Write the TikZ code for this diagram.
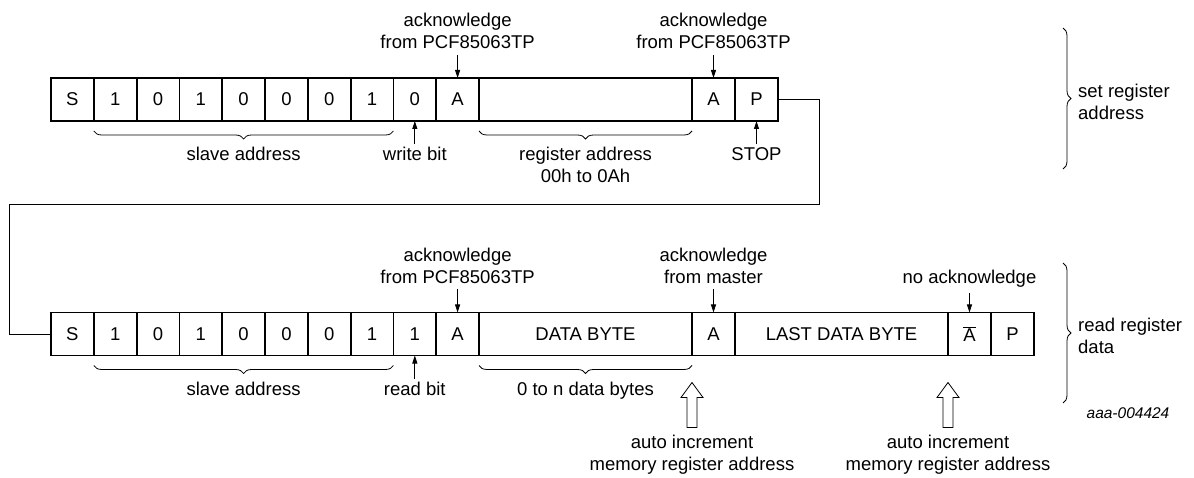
\documentclass[tikz,border=0pt]{standalone}
\usepackage{fontspec}
\setmainfont{Liberation Sans}
\usetikzlibrary{arrows.meta,decorations.pathreplacing}
\newcommand\lblfont{\fontsize{18.5}{22}\selectfont}
\begin{document}
\begin{tikzpicture}[x=1pt,y=-1pt,
  cell/.style={draw, line width=1.8pt, minimum height=43pt, minimum width=42.8pt, inner sep=0pt, outer sep=0pt, font=\lblfont},
  wide/.style={cell, minimum width=213pt},
  lbl/.style={align=center, inner sep=0pt, font=\lblfont},
  ackarrow/.style={-{Triangle[length=8pt,width=5pt]}, line width=0.8pt},
  brc/.style={decorate, decoration={brace, mirror, amplitude=8pt}, line width=0.8pt},
  rbrc/.style={decorate, decoration={brace, amplitude=8pt}, line width=0.8pt},
  link/.style={line width=1pt},
  hollow/.style={draw, line width=0.8pt, fill=white, line join=miter}]
\useasboundingbox (0,0) rectangle (1194,478);

% ---------- top frame: set register address ----------
\node[cell] (t0) at (72.4,99.5) {S};
\node[cell] (t1) at (115.2,99.5) {1};
\node[cell] (t2) at (158.0,99.5) {0};
\node[cell] (t3) at (200.8,99.5) {1};
\node[cell] (t4) at (243.6,99.5) {0};
\node[cell] (t5) at (286.4,99.5) {0};
\node[cell] (t6) at (329.2,99.5) {0};
\node[cell] (t7) at (372.0,99.5) {1};
\node[cell] (t8) at (414.8,99.5) {0};
\node[cell] (t9) at (457.6,99.5) {A};
\node[wide] (t10) at (585.5,99.5) {};
\node[cell] (t11) at (713.5,99.5) {A};
\node[cell] (t12) at (756.5,99.5) {P};

\node[lbl, anchor=north] (a1) at (457.6,13) {acknowledge\\from PCF85063TP};
\node[lbl, anchor=north] (a2) at (713.5,13) {acknowledge\\from PCF85063TP};
\draw[ackarrow] ([yshift=-6pt]a1.south) -- (t9.north);
\draw[ackarrow] ([yshift=-6pt]a2.south) -- (t11.north);

\draw[brc] ([yshift=-10pt]t1.south west) -- ([yshift=-10pt]t7.south east);
\node[lbl, anchor=north] (sa1) at (243.6,147) {slave address};
\node[lbl, anchor=north] (wb) at (414.8,147) {write bit};
\draw[ackarrow] ([yshift=3pt]wb.north) -- (t8.south);
\draw[brc] ([yshift=-10pt]t10.south west) -- ([yshift=-10pt]t10.south east);
\node[lbl, anchor=north] (ra) at (585.5,147) {register address\\00h to 0Ah};
\node[lbl, anchor=north] (st) at (756.5,147) {STOP};
\draw[ackarrow] ([yshift=3pt]st.north) -- (t12.south);

\draw[rbrc] (1063,28) -- (1063,169);
\node[lbl, align=left, anchor=north west] (sr) at (1078,83.5) {set register\\address};

% ---------- link ----------
\coordinate (k1) at (819,205);
\coordinate (k2) at (9,205);

% ---------- bottom frame: read register data ----------
\node[cell] (b0) at (72.4,334) {S};
\node[cell] (b1) at (115.2,334) {1};
\node[cell] (b2) at (158.0,334) {0};
\node[cell] (b3) at (200.8,334) {1};
\node[cell] (b4) at (243.6,334) {0};
\node[cell] (b5) at (286.4,334) {0};
\node[cell] (b6) at (329.2,334) {0};
\node[cell] (b7) at (372.0,334) {1};
\node[cell] (b8) at (414.8,334) {1};
\node[cell] (b9) at (457.6,334) {A};
\node[wide] (b10) at (585.5,334) {DATA BYTE};
\node[cell] (b11) at (713.5,334) {A};
\node[wide] (b12) at (841.5,334) {LAST DATA BYTE};
\node[cell] (b13) at (969.5,334) {$\overline{\mbox{A}}$};
\node[cell] (b14) at (1012.5,334) {P};

\draw[link] (t12.east) -| (k1) -- (k2) |- (b0.west);

\node[lbl, anchor=north] (a3) at (457.6,247.5) {acknowledge\\from PCF85063TP};
\node[lbl, anchor=north] (a4) at (713.5,247.5) {acknowledge\\from master};
\node[lbl, anchor=north] (a5) at (969.5,269.5) {no acknowledge};
\draw[ackarrow] ([yshift=-6pt]a3.south) -- (b9.north);
\draw[ackarrow] ([yshift=-6pt]a4.south) -- (b11.north);
\draw[ackarrow] ([yshift=-6pt]a5.south) -- (b13.north);

\draw[brc] ([yshift=-10pt]b1.south west) -- ([yshift=-10pt]b7.south east);
\node[lbl, anchor=north] (sa2) at (243.6,381.5) {slave address};
\node[lbl, anchor=north] (rb) at (414.8,381.5) {read bit};
\draw[ackarrow] ([yshift=3pt]rb.north) -- (b8.south);
\draw[brc] ([yshift=-10pt]b10.south west) -- ([yshift=-10pt]b10.south east);
\node[lbl, anchor=north] (nd) at (585.5,381.5) {0 to n data bytes};

\coordinate (h1) at ([yshift=-27pt]b10.south east);
\coordinate (h2) at ([yshift=-27pt]b12.south east);
\draw[hollow] (h1) -- ++(11,15) -- ++(-6,0) -- ++(0,30) -- ++(-10,0) -- ++(0,-30) -- ++(-6,0) -- cycle;
\draw[hollow] (h2) -- ++(11,15) -- ++(-6,0) -- ++(0,30) -- ++(-10,0) -- ++(0,-30) -- ++(-6,0) -- cycle;
\node[lbl, anchor=north] (ai1) at (692,435) {auto increment\\memory register address};
\node[lbl, anchor=north] (ai2) at (948,435) {auto increment\\memory register address};

\draw[rbrc] (1063,263) -- (1063,403);
\node[lbl, align=left, anchor=north west] (rr) at (1078,318) {read register\\data};

\node[inner sep=0pt, font=\fontsize{15.5}{18}\selectfont\itshape] (fig) at (1128,413) {aaa-004424};
\end{tikzpicture}
\end{document}
